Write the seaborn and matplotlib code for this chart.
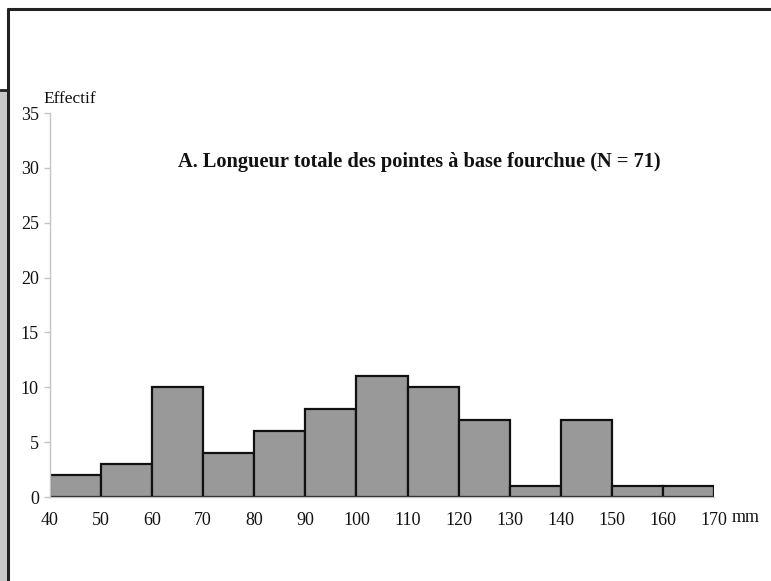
import matplotlib
matplotlib.use("Agg")
import matplotlib.pyplot as plt
import seaborn as sns
import numpy as np
from matplotlib.lines import Line2D
from matplotlib.patches import Rectangle

bin_edges = [40, 50, 60, 70, 80, 90, 100, 110, 120, 130, 140, 150, 160, 170]
counts = [2, 3, 10, 4, 6, 8, 11, 10, 7, 1, 7, 1, 1]
y_ticks = [0, 5, 10, 15, 20, 25, 30, 35]
title = "A. Longueur totale des pointes à base fourchue (N = 71)"

sns.set_theme(style="white")
plt.rcParams['font.family'] = ['Liberation Serif', 'DejaVu Serif']

W, H = 771, 581
fig = plt.figure(figsize=(W / 100, H / 100), dpi=100)
fig.patch.set_facecolor("white")

def fx(px):
    return px / W

def fy(py):
    return 1 - py / H

ax = fig.add_axes([fx(50), fy(497), fx(714) - fx(50), fy(113) - fy(497)])
centers = [(a + b) / 2 for a, b in zip(bin_edges[:-1], bin_edges[1:])]
sns.histplot(x=centers, weights=counts, bins=bin_edges, ax=ax,
             color="#999999", edgecolor="#111111", linewidth=1.6, alpha=1)
ax.set_xlim(40, 170)
ax.set_ylim(0, 35)
ax.set_xlabel("")
ax.set_ylabel("")
ax.set_yticks(y_ticks)
ax.set_xticks(bin_edges)
ax.set_xticklabels([str(v) for v in bin_edges], fontsize=13)
ax.set_yticklabels([str(v) for v in y_ticks], fontsize=13)
for s in ["top", "right"]:
    ax.spines[s].set_visible(False)
for s in ["left", "bottom"]:
    ax.spines[s].set_color("#c4c4c4")
    ax.spines[s].set_linewidth(1.0)
ax.tick_params(axis="y", which="both", left=True, length=4, width=1, color="#c4c4c4", pad=4, labelcolor="#111111")
ax.tick_params(axis="x", which="both", bottom=False, length=0, pad=11, labelcolor="#111111")
ax.set_facecolor("none")

fig.text(fx(732), fy(518), "mm", fontsize=13, ha="left", va="center", color="#111111")
fig.text(fx(43), fy(99), "Effectif", fontsize=12.5, ha="left", va="center", color="#111111")
fig.text(fx(419), fy(162), title, fontsize=14.7, fontweight="bold", ha="center", va="center", color="#111111")

# page frame
fig.patches.append(Rectangle((0, 0), fx(7), fy(90), transform=fig.transFigure,
                             facecolor="#c8c8c8", edgecolor="none", zorder=0))
fig.lines.append(Line2D([fx(8), 1.0], [fy(9), fy(9)], transform=fig.transFigure, color="#222222", linewidth=2.2))
fig.lines.append(Line2D([fx(8), fx(8)], [0, fy(9)], transform=fig.transFigure, color="#222222", linewidth=2.2))
fig.lines.append(Line2D([0, fx(8)], [fy(90), fy(90)], transform=fig.transFigure, color="#222222", linewidth=2.0))

fig.savefig("out.png", dpi=100)
